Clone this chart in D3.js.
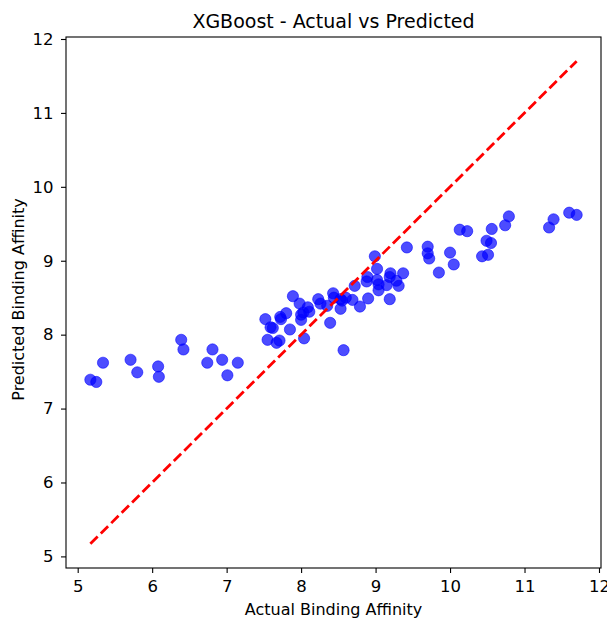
<!DOCTYPE html>
<html lang="en">
<head>
<meta charset="UTF-8">
<title>XGBoost - Actual vs Predicted</title>
<script src="https://d3js.org/d3.v7.min.js"></script>
<style>
  body { margin: 0; background: #fff; font-family: "DejaVu Sans", sans-serif; }
  .tick text { font-size: 16.5px; fill: #000; font-family: "DejaVu Sans", sans-serif; }
  .tick line { stroke: #000; stroke-width: 1.1; }
</style>
</head>
<body>
<svg width="607" height="618"></svg>
<script>
// actual vs predicted values
const actual = [
  5.17, 5.25, 5.34, 5.71, 5.80, 6.08, 6.09, 6.39, 6.42, 6.74, 6.81, 6.94, 7.01, 7.15,
  7.52, 7.59, 7.62, 7.55, 7.67, 7.71, 7.72, 7.73, 7.80, 7.85, 7.89, 7.98, 8.00, 8.00,
  8.03, 8.04, 8.09, 8.11, 8.23, 8.26, 8.35, 8.39, 8.43, 8.44, 8.53, 8.53, 8.57, 8.60,
  8.55, 8.69, 8.72, 8.79, 8.89, 8.88, 8.90, 8.99, 9.02, 9.02, 9.04, 9.04, 9.15, 9.19,
  9.20, 9.19, 9.28, 9.31, 9.37, 9.42,
  9.70, 9.70, 9.72, 9.85, 10.00, 10.05, 10.13, 10.23, 10.43, 10.49, 10.51, 10.55,
  10.56, 10.74, 10.79, 11.33, 11.39, 11.60, 11.70
];
const predicted = [
  7.39, 7.36, 7.62, 7.66, 7.49, 7.57, 7.43, 7.93, 7.80, 7.62, 7.80, 7.66, 7.45, 7.62,
  8.21, 8.10, 8.09, 7.93, 7.89, 7.92, 8.24, 8.21, 8.29, 8.07, 8.52, 8.42, 8.20, 8.27,
  8.30, 7.95, 8.37, 8.31, 8.48, 8.42, 8.39, 8.16, 8.56, 8.50, 8.48, 8.35, 7.79, 8.50,
  8.46, 8.47, 8.66, 8.38, 8.78, 8.72, 8.49, 9.06, 8.89, 8.74, 8.68, 8.60, 8.67, 8.78,
  8.83, 8.48, 8.73, 8.66, 8.83, 9.18,
  9.19, 9.10, 9.03, 8.84, 9.11, 8.95, 9.42, 9.40, 9.06, 9.27, 9.08, 9.24,
  9.43, 9.48, 9.60, 9.45, 9.56, 9.65, 9.62
];
const xTicks = [5, 6, 7, 8, 9, 10, 11, 12];
const yTicks = [5, 6, 7, 8, 9, 10, 11, 12];

const points = actual.map((a, i) => ({ a: a, p: predicted[i] }));
const lo = 5.17, hi = 11.70; // ends of the ideal line

const margin = { top: 37, right: 6, bottom: 50, left: 66 },
      width = 601 - margin.left,
      height = 568 - margin.top;

const svg = d3.select("svg");
const g = svg.append("g")
    .attr("transform", "translate(" + margin.left + "," + margin.top + ")");

const x = d3.scaleLinear().domain([4.843, 12.027]).range([0, width]);
const y = d3.scaleLinear().domain([4.843, 12.027]).range([height, 0]);

g.selectAll(".dot")
    .data(points)
    .enter()
    .append("circle")
    .attr("class", "dot")
    .attr("cx", d => x(d.a))
    .attr("cy", d => y(d.p))
    .attr("r", 5.6)
    .attr("fill", "blue")
    .attr("fill-opacity", 0.7)
    .attr("stroke", "blue")
    .attr("stroke-opacity", 0.7)
    .attr("stroke-width", 0.8);

g.append("line")
    .attr("x1", x(lo)).attr("y1", y(lo))
    .attr("x2", x(hi)).attr("y2", y(hi))
    .attr("stroke", "red")
    .attr("stroke-width", 2.8)
    .attr("stroke-dasharray", "10.3,4.4");

const xAxis = g.append("g")
    .attr("transform", "translate(0," + height + ")")
    .call(d3.axisBottom(x).tickValues(xTicks).tickFormat(d3.format("d")).tickSize(5).tickPadding(7));
const yAxis = g.append("g")
    .call(d3.axisLeft(y).tickValues(yTicks).tickFormat(d3.format("d")).tickSize(5).tickPadding(7.5));
xAxis.select(".domain").remove();
yAxis.select(".domain").remove();

g.append("rect")
    .attr("width", width)
    .attr("height", height)
    .attr("fill", "none")
    .attr("stroke", "#000")
    .attr("stroke-width", 1.1);

svg.append("text")
    .attr("x", margin.left + width / 2)
    .attr("y", 27.7)
    .attr("text-anchor", "middle")
    .style("font-size", "19px")
    .text("XGBoost - Actual vs Predicted");

svg.append("text")
    .attr("x", margin.left + width / 2)
    .attr("y", 614.5)
    .attr("text-anchor", "middle")
    .style("font-size", "16px")
    .text("Actual Binding Affinity");

svg.append("text")
    .attr("transform", "translate(23.5," + (margin.top + height / 2 - 3) + ") rotate(-90)")
    .attr("text-anchor", "middle")
    .style("font-size", "16px")
    .text("Predicted Binding Affinity");
</script>
</body>
</html>
